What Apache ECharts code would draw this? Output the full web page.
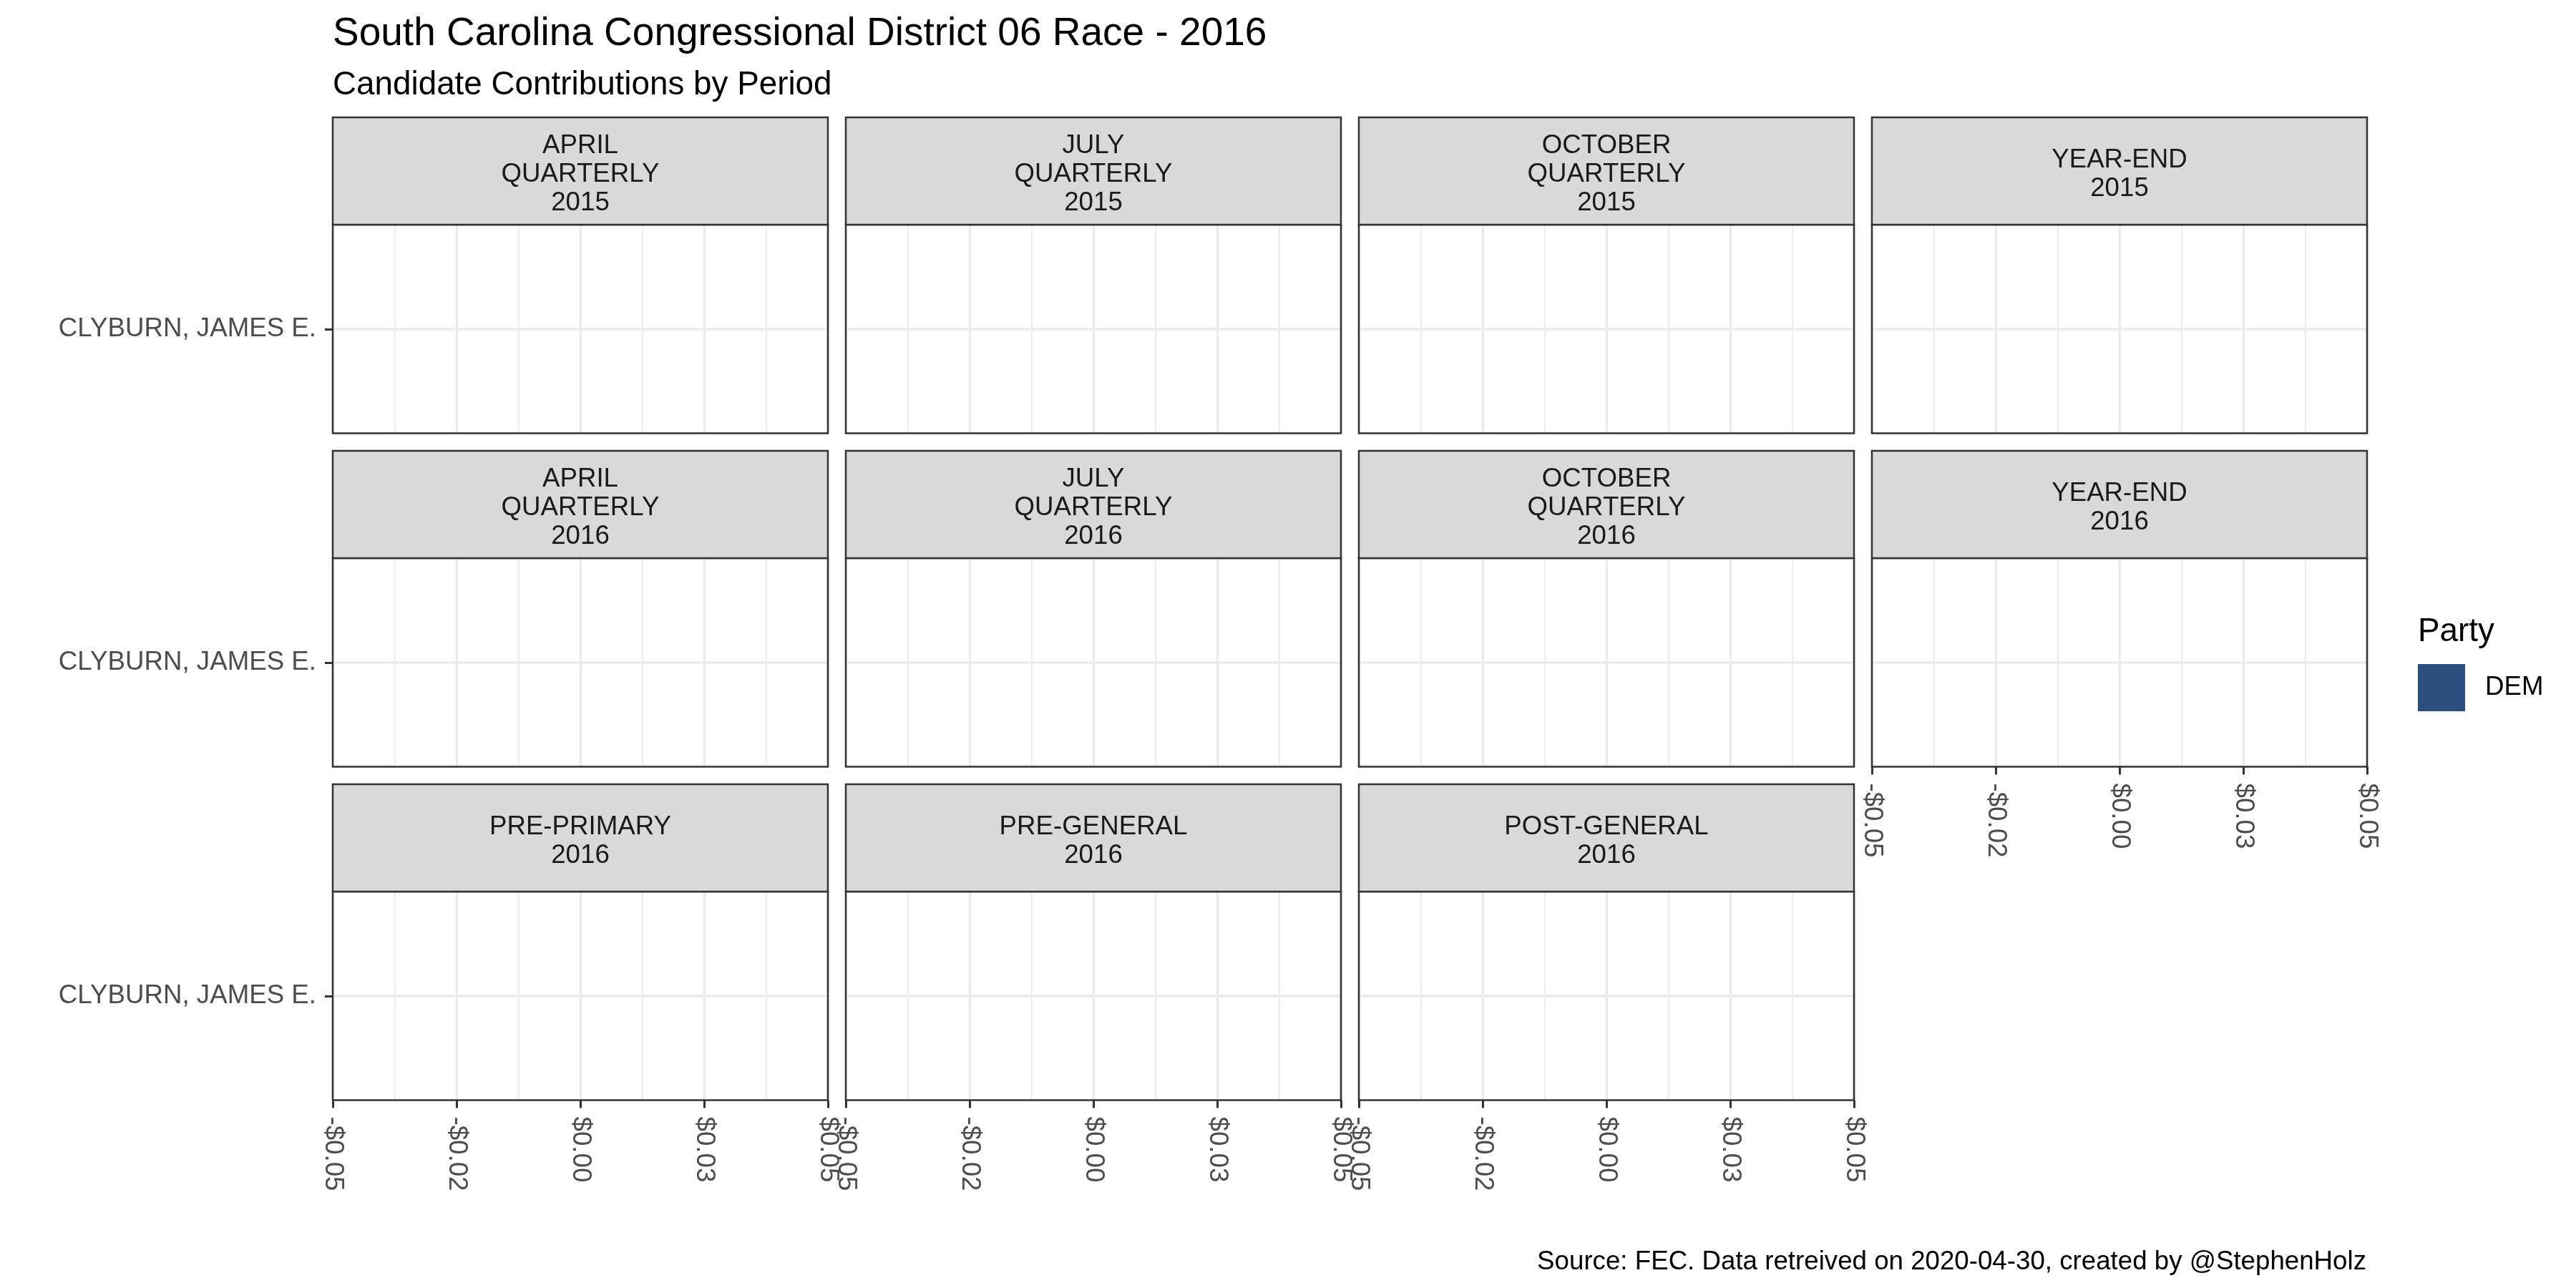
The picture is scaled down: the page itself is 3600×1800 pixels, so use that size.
<!DOCTYPE html>
<html>
<head>
<meta charset="utf-8">
<script src="https://cdn.jsdelivr.net/npm/echarts@6/dist/echarts.min.js"></script>
<style>
html, body { margin: 0; padding: 0; background: #ffffff; }
#chart { width: 3600px; height: 1800px; }
</style>
</head>
<body>
<div id="chart"></div>
<script>
// ---------------- DATA ----------------
const periods = [
  'APRIL\nQUARTERLY\n2015', 'JULY\nQUARTERLY\n2015', 'OCTOBER\nQUARTERLY\n2015', 'YEAR-END\n2015',
  'APRIL\nQUARTERLY\n2016', 'JULY\nQUARTERLY\n2016', 'OCTOBER\nQUARTERLY\n2016', 'YEAR-END\n2016',
  'PRE-PRIMARY\n2016', 'PRE-GENERAL\n2016', 'POST-GENERAL\n2016'
];
const candidates = ['CLYBURN, JAMES E.'];
const parties = ['DEM'];
// contributions of the DEM candidate per period (all zero in the source)
const demContributions = [0, 0, 0, 0, 0, 0, 0, 0, 0, 0, 0];
const xTickValues = [-0.05, -0.025, 0, 0.025, 0.05];
const xTickLabels = ['-$0.05', '-$0.02', '$0.00', '$0.03', '$0.05'];

const titleText = 'South Carolina Congressional District 06 Race - 2016';
const subtitleText = 'Candidate Contributions by Period';
const captionText = 'Source: FEC. Data retreived on 2020-04-30, created by @StephenHolz';
const legendTitle = 'Party';

// ---------------- LAYOUT ----------------
const FONT = '"Liberation Sans", Arial, Helvetica, sans-serif';
const partyColor = '#2D4F80';
const ncol = 4;
const colLeft0 = 465, colPitch = 717, panelW = 692;
const rowTop0 = 164, rowPitch = 466, stripH = 150, panelH = 291.5;

const grids = [], xAxes = [], yAxes = [], series = [], graphics = [];

periods.forEach((p, i) => {
  const r = Math.floor(i / ncol), c = i % ncol;
  const left = colLeft0 + c * colPitch;
  const stripTop = rowTop0 + r * rowPitch;
  const top = stripTop + stripH;
  // is this panel the lowest in its column?
  const showX = (i + ncol) >= periods.length;
  const showY = c === 0;

  grids.push({ left: left, top: top, width: panelW, height: panelH, show: false, containLabel: false });

  xAxes.push({
    type: 'value', gridIndex: i, min: -0.05, max: 0.05, interval: 0.025,
    axisLine: { show: false, onZero: false },
    axisTick: { show: showX, length: 11, lineStyle: { color: '#333333', width: 3 } },
    axisLabel: {
      show: showX, rotate: -90, margin: 23, fontSize: 36.7, color: '#4D4D4D', fontFamily: FONT,
      formatter: function (v) {
        const k = xTickValues.findIndex(t => Math.abs(t - v) < 1e-9);
        return k >= 0 ? xTickLabels[k] : '';
      }
    },
    splitLine: { show: true, lineStyle: { color: '#EBEBEB', width: 3.3 } },
    minorTick: { show: false, splitNumber: 2 },
    minorSplitLine: { show: true, lineStyle: { color: '#EBEBEB', width: 1.8 } }
  });

  yAxes.push({
    type: 'category', gridIndex: i, data: candidates,
    axisLine: { show: false, onZero: false },
    axisTick: { show: showY, alignWithLabel: true, length: 11, lineStyle: { color: '#333333', width: 3 } },
    axisLabel: { show: showY, margin: 23, fontSize: 36.7, color: '#4D4D4D', fontFamily: FONT },
    splitLine: { show: false }
  });

  series.push({
    name: parties[0], type: 'bar', xAxisIndex: i, yAxisIndex: i,
    data: [demContributions[i]], itemStyle: { color: partyColor }, barWidth: '90%',
    markLine: {
      silent: true, symbol: ['none', 'none'], label: { show: false }, animation: false,
      lineStyle: { type: 'solid', color: '#EBEBEB', width: 3.5 },
      emphasis: { disabled: true },
      data: [{ yAxis: candidates[0] }]
    }
  });

  // panel border (drawn on top of grid lines)
  graphics.push({
    type: 'rect', silent: true, z: 20,
    shape: { x: left, y: top, width: panelW, height: panelH },
    style: { fill: 'rgba(0,0,0,0)', stroke: '#333333', lineWidth: 2.5 }
  });
  // strip background
  graphics.push({
    type: 'rect', silent: true, z: 21,
    shape: { x: left, y: stripTop, width: panelW, height: stripH },
    style: { fill: '#D9D9D9', stroke: '#333333', lineWidth: 2.5 }
  });
  graphics.push({
    type: 'text', silent: true, z: 22,
    x: left + panelW / 2, y: stripTop + stripH / 2 + 5,
    style: { text: p, fill: '#1A1A1A', font: '36.7px ' + FONT, textAlign: 'center', textVerticalAlign: 'middle', lineHeight: 39.7 }
  });
});

// titles, caption, legend title
graphics.push({ type: 'text', silent: true, x: 465, y: 48,
  style: { text: titleText, fill: '#000000', font: '55px ' + FONT, textAlign: 'left', textVerticalAlign: 'middle' } });
graphics.push({ type: 'text', silent: true, x: 465, y: 119,
  style: { text: subtitleText, fill: '#000000', font: '45.8px ' + FONT, textAlign: 'left', textVerticalAlign: 'middle' } });
graphics.push({ type: 'text', silent: true, x: 3307, y: 1764,
  style: { text: captionText, fill: '#000000', font: '36.7px ' + FONT, textAlign: 'right', textVerticalAlign: 'middle' } });
graphics.push({ type: 'text', silent: true, x: 3379, y: 883,
  style: { text: legendTitle, fill: '#000000', font: '45.8px ' + FONT, textAlign: 'left', textVerticalAlign: 'middle' } });

const option = {
  animation: false,
  backgroundColor: '#ffffff',
  grid: grids,
  xAxis: xAxes,
  yAxis: yAxes,
  series: series,
  legend: {
    data: parties, left: 3379, top: 928, orient: 'vertical',
    icon: 'rect', itemWidth: 66, itemHeight: 66, padding: 0,
    selectedMode: false,
    textStyle: { fontSize: 36.7, color: '#000000', fontFamily: FONT, padding: [0, 0, 0, 23] }
  },
  graphic: graphics
};

const chart = echarts.init(document.getElementById('chart'), null, { renderer: 'canvas', width: 3600, height: 1800 });
chart.setOption(option);
</script>
</body>
</html>
